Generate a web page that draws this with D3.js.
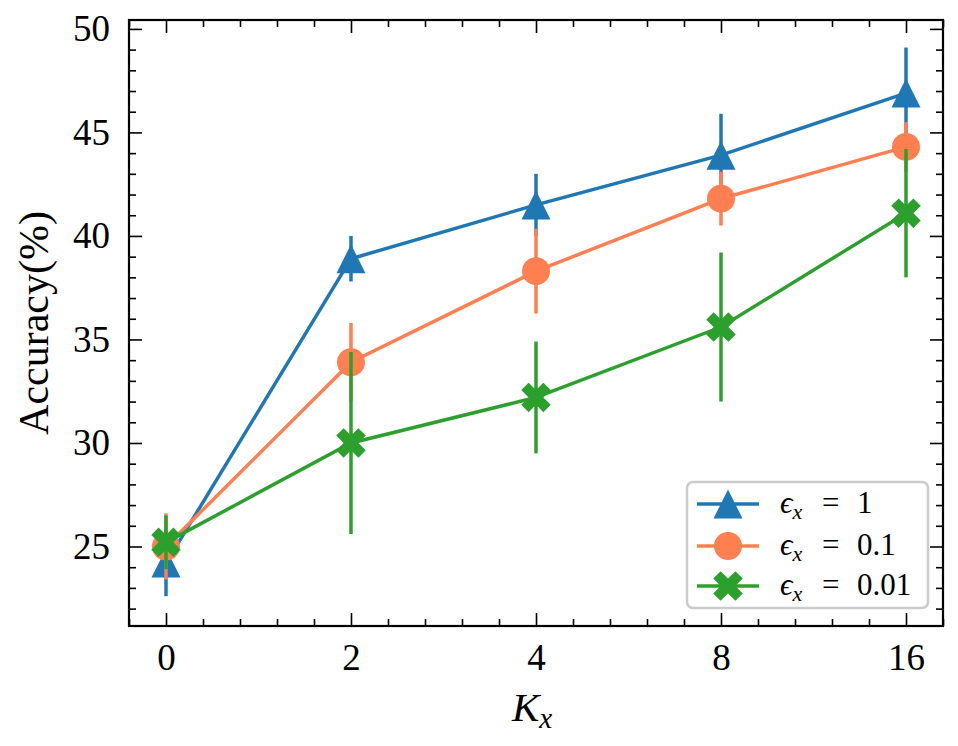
<!DOCTYPE html>
<html>
<head>
<meta charset="utf-8">
<script src="https://cdn.jsdelivr.net/npm/d3@7"></script>
<style>
  body { margin: 0; background: #fff; }
  text { font-family: "Liberation Serif", "DejaVu Serif", serif; fill: #000; }
</style>
</head>
<body>
<svg id="chart" width="958" height="746"></svg>
<script>
// categories on the x axis (drawn at equal spacing)
var kLabels = ["0", "2", "4", "8", "16"];

// series: mean accuracy (%) and error half-width
var eps1Mean  = [24.2, 38.9, 41.5, 43.9, 46.9];
var eps1Err   = [1.6, 1.1, 1.5, 2.0, 2.2];
var eps01Mean = [25.0, 33.9, 38.3, 41.8, 44.3];
var eps01Err  = [1.6, 1.9, 2.05, 1.3, 1.2];
var eps001Mean = [25.2, 30.0, 32.2, 35.6, 41.1];
var eps001Err  = [1.3, 4.4, 2.7, 3.6, 3.1];

var seriesNames = ["1", "0.1", "0.01"];
var yTicks = [25, 30, 35, 40, 45, 50];

var svg = d3.select("#chart"),
    margin = {left: 129, top: 20, right: 15, bottom: 120},
    width = +svg.attr("width") - margin.left - margin.right,
    height = +svg.attr("height") - margin.top - margin.bottom;

var g = svg.append("g").attr("transform", "translate(" + margin.left + "," + margin.top + ")");

var x = d3.scaleLinear().domain([-0.2, kLabels.length - 1 + 0.2]).range([0, width]);
var y = d3.scaleLinear().domain([21.16, 50.43]).range([height, 0]);

var series = [
    {name: seriesNames[0], mean: eps1Mean, err: eps1Err, color: "#1f77b4", marker: "tri"},
    {name: seriesNames[1], mean: eps01Mean, err: eps01Err, color: "#ff7f50", marker: "circle"},
    {name: seriesNames[2], mean: eps001Mean, err: eps001Err, color: "#2ca02c", marker: "cross"}
];

var markerSize = 29, lw = 3.5;
function markerPath(type, s) {
    var h = s / 2;
    if (type == "tri") {
        return "M0," + (-h) + "L" + h + "," + h + "L" + (-h) + "," + h + "Z";
    }
    if (type == "circle") {
        var r = h - 0.5;
        return "M" + r + ",0A" + r + "," + r + " 0 1,1 " + (-r) + ",0A" + r + "," + r + " 0 1,1 " + r + ",0Z";
    }
    // filled X: plus rotated by 45 degrees
    var pts = [[-1,-3],[-1,-1],[-3,-1],[-3,1],[-1,1],[-1,3],[1,3],[1,1],[3,1],[3,-1],[1,-1],[1,-3]];
    var c = Math.SQRT1_2;
    return "M" + pts.map(function(p) {
        var px = p[0] / 6 * s * 1.08, py = p[1] / 6 * s * 1.08;
        return [(px - py) * c, (px + py) * c].join(",");
    }).join("L") + "Z";
}

// clip to the axes box
svg.append("defs").append("clipPath").attr("id", "plotclip")
    .append("rect").attr("width", width).attr("height", height);

var plot = g.append("g").attr("clip-path", "url(#plotclip)");

var line = d3.line()
    .x(function(d, i) { return x(i); })
    .y(function(d) { return y(d); });

series.forEach(function(s) {
    var sg = plot.append("g");
    sg.selectAll("line.err")
        .data(s.mean)
        .enter().append("line")
        .attr("class", "err")
        .attr("x1", function(d, i) { return x(i); })
        .attr("x2", function(d, i) { return x(i); })
        .attr("y1", function(d, i) { return y(d - s.err[i]); })
        .attr("y2", function(d, i) { return y(d + s.err[i]); })
        .attr("stroke", s.color)
        .attr("stroke-width", lw);
    sg.append("path")
        .datum(s.mean)
        .attr("d", line)
        .attr("fill", "none")
        .attr("stroke", s.color)
        .attr("stroke-width", lw);
    sg.selectAll("path.mk")
        .data(s.mean)
        .enter().append("path")
        .attr("class", "mk")
        .attr("transform", function(d, i) { return "translate(" + x(i) + "," + y(d) + ")"; })
        .attr("d", markerPath(s.marker, markerSize))
        .attr("fill", s.color);
});

// axes: ticks inward on all four sides
var majorLen = 13, minorLen = 7;
var xMinor = d3.range(-0.2, 4.21, 0.2).map(function(v) { return Math.round(v * 10) / 10; })
    .filter(function(v) { return Math.abs(v - Math.round(v)) > 1e-6; });
var yMinor = d3.range(22, 51, 1).filter(function(v) { return v % 5 != 0; });

function styleAxis(sel) {
    sel.selectAll(".domain").remove();
    sel.selectAll(".tick line").attr("stroke", "#000").attr("stroke-width", 1.6);
    sel.selectAll(".tick text").style("font-size", "37px");
}

var xMajor = d3.range(kLabels.length);
g.append("g").attr("transform", "translate(0," + height + ")")
    .call(d3.axisBottom(x).tickValues(xMajor).tickSize(-majorLen).tickPadding(18)
        .tickFormat(function(d) { return kLabels[d]; }))
    .call(styleAxis)
    .selectAll("text").attr("dy", "0.71em");
g.append("g").attr("transform", "translate(0," + height + ")")
    .call(d3.axisBottom(x).tickValues(xMinor).tickSize(-minorLen).tickFormat(""))
    .call(styleAxis);
g.append("g")
    .call(d3.axisTop(x).tickValues(xMajor).tickSize(-majorLen).tickFormat(""))
    .call(styleAxis);
g.append("g")
    .call(d3.axisTop(x).tickValues(xMinor).tickSize(-minorLen).tickFormat(""))
    .call(styleAxis);

g.append("g")
    .call(d3.axisLeft(y).tickValues(yTicks).tickSize(-majorLen).tickPadding(19))
    .call(styleAxis);
g.append("g")
    .call(d3.axisLeft(y).tickValues(yMinor).tickSize(-minorLen).tickFormat(""))
    .call(styleAxis);
g.append("g").attr("transform", "translate(" + width + ",0)")
    .call(d3.axisRight(y).tickValues(yTicks).tickSize(-majorLen).tickFormat(""))
    .call(styleAxis);
g.append("g").attr("transform", "translate(" + width + ",0)")
    .call(d3.axisRight(y).tickValues(yMinor).tickSize(-minorLen).tickFormat(""))
    .call(styleAxis);

// frame
g.append("rect")
    .attr("width", width).attr("height", height)
    .attr("fill", "none").attr("stroke", "#000").attr("stroke-width", 2.2);

// axis labels
svg.append("text")
    .attr("transform", "translate(48," + (margin.top + height / 2) + ") rotate(-90)")
    .attr("text-anchor", "middle")
    .style("font-size", "42px")
    .text("Accuracy(%)");

var xl = svg.append("text")
    .attr("x", margin.left + width / 2 - 4)
    .attr("y", 721)
    .attr("text-anchor", "middle")
    .style("font-size", "41px");
xl.append("tspan").style("font-style", "italic").text("K");
xl.append("tspan").style("font-style", "italic").style("font-size", "29px")
    .attr("dy", 7).text("x");

// legend
var lg = svg.append("g").attr("transform", "translate(687,482)");
lg.append("rect")
    .attr("width", 241).attr("height", 126).attr("rx", 6)
    .attr("fill", "#fff").attr("fill-opacity", 0.8)
    .attr("stroke", "#cccccc").attr("stroke-width", 2.5);

var rowY = [22, 64, 104];
series.forEach(function(s, i) {
    var row = lg.append("g").attr("transform", "translate(0," + rowY[i] + ")");
    row.append("line").attr("x1", 10).attr("x2", 72)
        .attr("stroke", s.color).attr("stroke-width", lw);
    row.append("path").attr("transform", "translate(41,0)")
        .attr("d", markerPath(s.marker, markerSize)).attr("fill", s.color);
    var t = row.append("text").attr("x", 93).attr("y", 9).style("font-size", "31px");
    t.append("tspan").style("font-style", "italic").text("\u03f5");
    t.append("tspan").style("font-style", "italic").style("font-size", "22px")
        .attr("dy", 6).text("x");
    row.append("text").attr("x", 135).attr("y", 9).style("font-size", "31px").text("=");
    row.append("text").attr("x", 170).attr("y", 9).style("font-size", "31px").text(s.name);
});
</script>
</body>
</html>
